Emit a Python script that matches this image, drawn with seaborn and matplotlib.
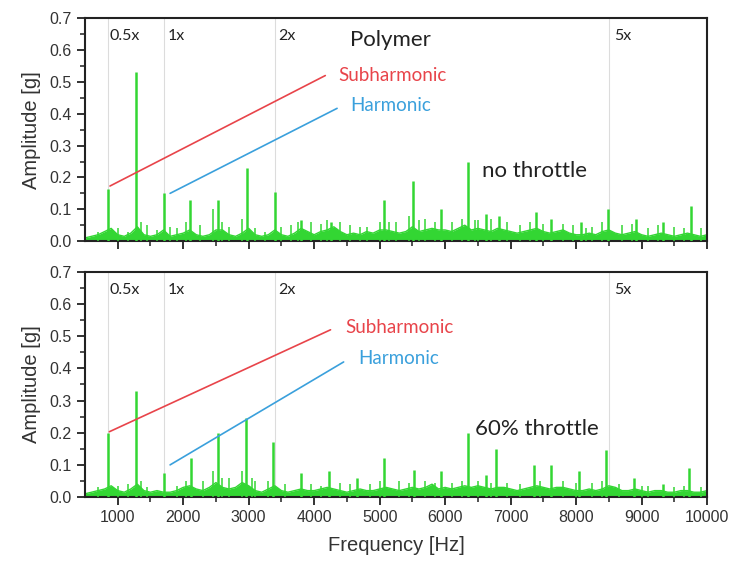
import numpy as np
import pandas as pd
import matplotlib
matplotlib.use("Agg")
import matplotlib.pyplot as plt
import seaborn as sns

# ---------------- data ----------------
floor_freq = list(range(500, 10001, 100))
floor_top = [0.01, 0.015, 0.02, 0.03, 0.04, 0.02,
             0.015, 0.025, 0.045, 0.02, 0.015, 0.02, 0.035, 0.015, 0.02, 0.025,
             0.035, 0.02, 0.015, 0.02, 0.035, 0.035, 0.02, 0.015, 0.025, 0.04,
             0.02, 0.015, 0.02, 0.035, 0.02, 0.015, 0.025, 0.04, 0.03, 0.02,
             0.03, 0.035, 0.045, 0.03, 0.02, 0.025, 0.02, 0.03, 0.025, 0.035,
             0.035, 0.03, 0.025, 0.03, 0.045, 0.03, 0.035, 0.04, 0.035, 0.035,
             0.03, 0.04, 0.05, 0.035, 0.04, 0.035, 0.03, 0.04, 0.035, 0.03,
             0.025, 0.03, 0.035, 0.04, 0.03, 0.025, 0.03, 0.035, 0.025, 0.02,
             0.02, 0.025, 0.02, 0.03, 0.035, 0.025, 0.02, 0.025, 0.03, 0.02,
             0.015, 0.02, 0.025, 0.02, 0.015, 0.02, 0.025, 0.02, 0.015, 0.02]
floor_bot = [0.01, 0.015, 0.02, 0.025, 0.035, 0.02,
             0.015, 0.025, 0.04, 0.02, 0.015, 0.02, 0.015, 0.015, 0.02, 0.03,
             0.035, 0.025, 0.02, 0.03, 0.045, 0.03, 0.025, 0.03, 0.045, 0.035,
             0.02, 0.015, 0.025, 0.035, 0.02, 0.015, 0.02, 0.025, 0.02, 0.02,
             0.025, 0.03, 0.025, 0.02, 0.015, 0.02, 0.025, 0.02, 0.02, 0.025,
             0.03, 0.025, 0.02, 0.025, 0.03, 0.025, 0.03, 0.04, 0.025, 0.03,
             0.025, 0.03, 0.035, 0.03, 0.035, 0.03, 0.025, 0.03, 0.03, 0.025,
             0.02, 0.025, 0.03, 0.035, 0.03, 0.025, 0.03, 0.03, 0.025, 0.02,
             0.02, 0.025, 0.02, 0.025, 0.035, 0.03, 0.02, 0.02, 0.025, 0.02,
             0.015, 0.02, 0.02, 0.015, 0.015, 0.02, 0.02, 0.015, 0.015, 0.02]

peak_freq_top = [852, 1275, 1700, 2110, 2530, 2980, 3400, 3800, 4250, 5070, 5510,
                 5930, 6350, 6620, 6820, 7380, 7610, 8070, 8480, 8910, 9320, 9760]
peak_amp_top = [0.165, 0.53, 0.15, 0.13, 0.13, 0.23, 0.155, 0.065, 0.06, 0.13, 0.19,
                0.10, 0.25, 0.085, 0.08, 0.09, 0.07, 0.06, 0.10, 0.07, 0.06, 0.11]
minor_freq_top = [700, 1000, 1150, 1350, 1450, 1600, 1800, 1900, 2050, 2250, 2450, 2600,
                  2700, 2900, 3100, 3250, 3500, 3650, 3750, 3950, 4100, 4200, 4400, 4550,
                  4700, 4800, 5000, 5150, 5250, 5450, 5600, 5700, 5850, 6100, 6250, 6450,
                  6500, 6700, 6950, 7150, 7300, 7500, 7800, 7950, 8150, 8250, 8400, 8700,
                  8850, 9100, 9250, 9500, 9650, 9900]
minor_amp_top = [0.03, 0.04, 0.03, 0.06, 0.05, 0.035, 0.045, 0.04, 0.06, 0.05, 0.1, 0.06,
                 0.045, 0.07, 0.04, 0.03, 0.045, 0.05, 0.06, 0.06, 0.055, 0.065, 0.06, 0.05,
                 0.045, 0.045, 0.06, 0.06, 0.06, 0.08, 0.065, 0.07, 0.06, 0.06, 0.07, 0.065,
                 0.065, 0.07, 0.06, 0.05, 0.06, 0.055, 0.055, 0.05, 0.04, 0.045, 0.06, 0.05,
                 0.055, 0.04, 0.05, 0.045, 0.04, 0.04]

peak_freq_bot = [852, 1275, 1700, 2120, 2530, 2960, 3370, 3800, 4220, 4660, 5070, 5520,
                 5930, 6350, 6620, 6770, 7350, 7610, 8040, 8450, 8880, 9320, 9720]
peak_amp_bot = [0.20, 0.33, 0.075, 0.12, 0.20, 0.245, 0.17, 0.075, 0.08, 0.06, 0.12, 0.085,
                0.08, 0.20, 0.07, 0.15, 0.10, 0.10, 0.08, 0.145, 0.06, 0.04, 0.09]
minor_freq_bot = [700, 1000, 1150, 1350, 1450, 1900, 2050, 2300, 2450, 2600, 2700, 2900,
                  3050, 3100, 3300, 3550, 3950, 4100, 4400, 4550, 4850, 5000, 5300, 5450,
                  5700, 5850, 6100, 6250, 6500, 6700, 6950, 7150, 7450, 7800, 8000, 8250,
                  8400, 8650, 9000, 9100, 9500, 9650, 9900]
minor_amp_bot = [0.03, 0.035, 0.04, 0.05, 0.03, 0.035, 0.05, 0.05, 0.08, 0.06, 0.06, 0.08,
                 0.06, 0.05, 0.05, 0.04, 0.04, 0.035, 0.045, 0.04, 0.04, 0.05, 0.05, 0.045,
                 0.05, 0.045, 0.045, 0.05, 0.05, 0.045, 0.045, 0.04, 0.05, 0.05, 0.045, 0.045,
                 0.05, 0.04, 0.035, 0.035, 0.03, 0.035, 0.03]

order_freq = [850, 1700, 3400, 8500]
order_labels = ["0.5x", "1x", "2x", "5x"]
order_label_x = [880, 1770, 3450, 8580]

# annotation guide lines: (x0, y0, x1, y1)
sub_line_top = [882, 0.173, 4170, 0.52]
har_line_top = [1800, 0.15, 4350, 0.417]
sub_line_bot = [872, 0.203, 4250, 0.52]
har_line_bot = [1800, 0.10, 4450, 0.42]

yticks = [0.0, 0.1, 0.2, 0.3, 0.4, 0.5, 0.6, 0.7]
xticks = [1000, 2000, 3000, 4000, 5000, 6000, 7000, 8000, 9000, 10000]

# ---------------- style ----------------
sns.set_style("ticks")
plt.rcParams["font.family"] = ["Liberation Sans", "DejaVu Sans"]
GREEN = "#33d633"
RED = "#e8444a"
BLUE = "#3aa0dc"
TXT = "#333333"
AX_FONT = ["Liberation Sans", "DejaVu Sans"]
ANN = ["Lato", "DejaVu Sans"]

fig = plt.figure(figsize=(7.35, 5.70), dpi=100)
ax_top = fig.add_axes([0.1156, 0.577, 0.8464, 0.391])
ax_bot = fig.add_axes([0.1156, 0.128, 0.8464, 0.395])


def draw(ax, floor, pf, pa, mf, ma, sub, har, sub_txt, har_txt, cond_txt, cond_pos, show_x):
    for f in order_freq:
        ax.axvline(f, color="#dcdcdc", lw=0.8, zorder=0)
    df = pd.DataFrame({"Frequency": floor_freq, "Amplitude": floor})
    ax.fill_between(df["Frequency"], 0, df["Amplitude"], color=GREEN, lw=0, zorder=2)
    sns.lineplot(data=df, x="Frequency", y="Amplitude", ax=ax, color=GREEN, lw=1.0, zorder=2)
    ax.vlines(mf, 0, ma, color=GREEN, lw=1.1, zorder=3)
    ax.vlines(pf, 0, pa, color=GREEN, lw=1.8, zorder=3)
    ax.plot([sub[0], sub[2]], [sub[1], sub[3]], color=RED, lw=1.2, zorder=4)
    ax.plot([har[0], har[2]], [har[1], har[3]], color=BLUE, lw=1.2, zorder=4)
    ax.text(sub_txt[0], sub_txt[1], "Subharmonic", color=RED, fontsize=13.5, family=ANN, va="center")
    ax.text(har_txt[0], har_txt[1], "Harmonic", color=BLUE, fontsize=13.5, family=ANN, va="center")
    for lx, lab in zip(order_label_x, order_labels):
        ax.text(lx, 0.645, lab, fontsize=11.5, color="#222222", family=ANN, va="center")
    ax.text(cond_pos[0], cond_pos[1], cond_txt, fontsize=16, color="#222222", family=ANN, va="center")

    ax.set_xlim(500, 10000)
    ax.set_ylim(0, 0.7)
    ax.set_yticks(yticks)
    ax.set_yticklabels([f"{v:.1f}" for v in yticks], fontsize=11.5, color=TXT, family=AX_FONT)
    ax.set_yticks(np.arange(0.05, 0.7, 0.1), minor=True)
    ax.set_xticks(xticks)
    ax.set_xticks([1500, 2500, 3500, 4500, 5500, 6500, 7500, 8500, 9500], minor=True)
    if show_x:
        ax.set_xticklabels([str(v) for v in xticks], fontsize=11.5, color=TXT, family=AX_FONT)
        ax.set_xlabel("Frequency [Hz]", fontsize=14.5, color=TXT, labelpad=8, family=AX_FONT)
    else:
        ax.set_xticklabels([])
        ax.set_xlabel("")
    ax.set_ylabel("Amplitude [g]", fontsize=14.5, color=TXT, labelpad=6, family=AX_FONT)
    ax.tick_params(axis="both", which="major", direction="out", length=6, width=1.3, color="#222222")
    ax.tick_params(axis="both", which="minor", direction="out", length=3.5, width=1.1, color="#222222")
    for s in ax.spines.values():
        s.set_visible(True)
        s.set_linewidth(1.5)
        s.set_color("#222222")


draw(ax_top, floor_top, peak_freq_top, peak_amp_top, minor_freq_top, minor_amp_top,
     sub_line_top, har_line_top, (4370, 0.52), (4552, 0.425), "no throttle", (6570, 0.22), False)
ax_top.text(4552, 0.632, "Polymer", fontsize=16, color="#222222", family=ANN, va="center")
draw(ax_bot, floor_bot, peak_freq_bot, peak_amp_bot, minor_freq_bot, minor_amp_bot,
     sub_line_bot, har_line_bot, (4480, 0.527), (4670, 0.43), "60% throttle", (6460, 0.21), True)

fig.savefig("out.png", dpi=100)
